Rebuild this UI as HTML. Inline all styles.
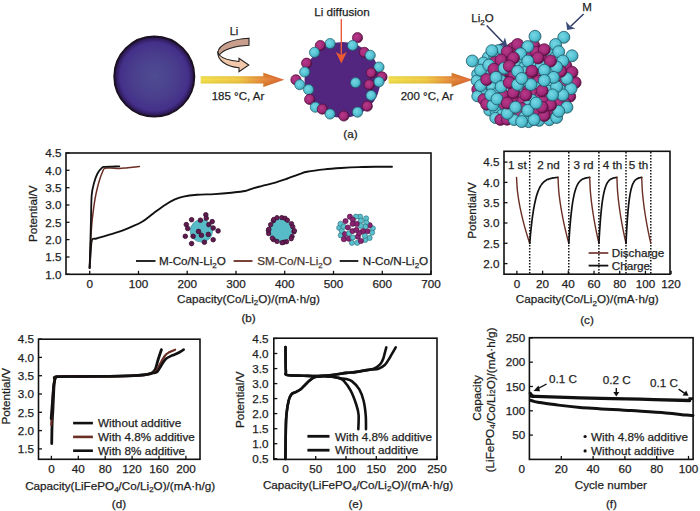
<!DOCTYPE html>
<html><head><meta charset="utf-8"><style>
html,body{margin:0;padding:0;background:#fff;overflow:hidden;width:700px;height:511px;}
svg{display:block;font-family:"Liberation Sans",sans-serif;}
</style></head><body>
<svg width="700" height="511" viewBox="0 0 700 511">
<rect width="700" height="511" fill="#fff"/>
<defs>
<radialGradient id="bigsph" cx="50%" cy="50%" r="50%">
<stop offset="0" stop-color="#4e4c92"/><stop offset="0.55" stop-color="#4a3e8c"/><stop offset="0.85" stop-color="#44308a"/><stop offset="0.95" stop-color="#301c5c"/><stop offset="1" stop-color="#160c24"/>
</radialGradient>
<linearGradient id="arrowG" x1="0" y1="0" x2="1" y2="0">
<stop offset="0" stop-color="#f2de3a"/><stop offset="0.45" stop-color="#f0c432"/><stop offset="0.7" stop-color="#e88a2a"/><stop offset="1" stop-color="#d85420"/>
</linearGradient>
<linearGradient id="arrowV" x1="0" y1="0" x2="0" y2="1">
<stop offset="0" stop-color="#000" stop-opacity="0.08"/><stop offset="0.45" stop-color="#fff" stop-opacity="0.12"/><stop offset="1" stop-color="#000" stop-opacity="0.12"/>
</linearGradient>
<radialGradient id="cyanB" cx="40%" cy="40%" r="60%">
<stop offset="0" stop-color="#78d8e4"/><stop offset="0.7" stop-color="#52c0d2"/><stop offset="1" stop-color="#3a98a8"/>
</radialGradient>
<radialGradient id="magB" cx="40%" cy="40%" r="60%">
<stop offset="0" stop-color="#b83a88"/><stop offset="0.7" stop-color="#a02878"/><stop offset="1" stop-color="#5a1040"/>
</radialGradient>
</defs>
<circle cx="154.3" cy="76.6" r="40.2" fill="url(#bigsph)" stroke="#1a1020" stroke-width="1.6"/>
<path d="M249,38.2 C232,39 219,44 217.8,52.5 L219.3,55 C223,50 234,46 249,45.2 Z" fill="#c99e8c" stroke="#222" stroke-width="1.1"/>
<path d="M217.8,52.5 C217.5,60 226,66.5 239,67.8 L239,71.7 L248.8,65 L239,58.2 L239,61.5 C229,60.5 222,58 219.3,55 Z" fill="#f2c8aa" stroke="#222" stroke-width="1.1"/>
<text x="234.0" y="35.4" text-anchor="middle" font-size="11" fill="#1e1e1e" stroke="#1e1e1e" stroke-width="0.25" >Li</text>
<path d="M200.7,76.2 L263.3,76.2 L263.3,72.8 L284.3,79.8 L263.3,87.0 L263.3,83.6 L200.7,83.6 Z" fill="url(#arrowG)"/>
<path d="M200.7,76.2 L263.3,76.2 L263.3,72.8 L284.3,79.8 L263.3,87.0 L263.3,83.6 L200.7,83.6 Z" fill="url(#arrowV)"/>
<path d="M388.6,76.2 L451.6,76.2 L451.6,72.8 L472.6,79.8 L451.6,87.0 L451.6,83.6 L388.6,83.6 Z" fill="url(#arrowG)"/>
<path d="M388.6,76.2 L451.6,76.2 L451.6,72.8 L472.6,79.8 L451.6,87.0 L451.6,83.6 L388.6,83.6 Z" fill="url(#arrowV)"/>
<text x="238.0" y="100.0" text-anchor="middle" font-size="11.5" fill="#1e1e1e" stroke="#1e1e1e" stroke-width="0.25" >185 °C, Ar</text>
<text x="427.0" y="100.0" text-anchor="middle" font-size="11.5" fill="#1e1e1e" stroke="#1e1e1e" stroke-width="0.25" >200 °C, Ar</text>
<circle cx="342.5" cy="80" r="38" fill="#52267e"/>
<circle cx="357.5" cy="37.7" r="5.1" fill="url(#magB)" stroke="#4a1038" stroke-width="0.7"/>
<circle cx="330.1" cy="43.6" r="5.1" fill="url(#cyanB)" stroke="#1e5866" stroke-width="0.7"/>
<circle cx="320.3" cy="45.5" r="5.1" fill="url(#magB)" stroke="#4a1038" stroke-width="0.7"/>
<circle cx="314.5" cy="52.4" r="5.1" fill="url(#cyanB)" stroke="#1e5866" stroke-width="0.7"/>
<circle cx="352.6" cy="45.5" r="5.1" fill="url(#cyanB)" stroke="#1e5866" stroke-width="0.7"/>
<circle cx="364.4" cy="52.4" r="5.1" fill="url(#magB)" stroke="#4a1038" stroke-width="0.7"/>
<circle cx="370.2" cy="55.3" r="5.1" fill="url(#cyanB)" stroke="#1e5866" stroke-width="0.7"/>
<circle cx="306.6" cy="63.2" r="5.1" fill="url(#magB)" stroke="#4a1038" stroke-width="0.7"/>
<circle cx="379.0" cy="67.1" r="5.1" fill="url(#cyanB)" stroke="#1e5866" stroke-width="0.7"/>
<circle cx="382.0" cy="76.9" r="5.1" fill="url(#magB)" stroke="#4a1038" stroke-width="0.7"/>
<circle cx="304.7" cy="72.0" r="5.1" fill="url(#cyanB)" stroke="#1e5866" stroke-width="0.7"/>
<circle cx="371.2" cy="72.9" r="5.1" fill="url(#magB)" stroke="#4a1038" stroke-width="0.7"/>
<circle cx="295.9" cy="79.8" r="5.1" fill="url(#magB)" stroke="#4a1038" stroke-width="0.7"/>
<circle cx="299.8" cy="84.7" r="5.1" fill="url(#cyanB)" stroke="#1e5866" stroke-width="0.7"/>
<circle cx="308.6" cy="89.6" r="5.1" fill="url(#cyanB)" stroke="#1e5866" stroke-width="0.7"/>
<circle cx="355.6" cy="82.7" r="5.1" fill="url(#cyanB)" stroke="#1e5866" stroke-width="0.7"/>
<circle cx="369.3" cy="84.7" r="5.1" fill="url(#magB)" stroke="#4a1038" stroke-width="0.7"/>
<circle cx="379.0" cy="81.8" r="5.1" fill="url(#cyanB)" stroke="#1e5866" stroke-width="0.7"/>
<circle cx="371.2" cy="95.5" r="5.1" fill="url(#cyanB)" stroke="#1e5866" stroke-width="0.7"/>
<circle cx="309.6" cy="99.4" r="5.1" fill="url(#magB)" stroke="#4a1038" stroke-width="0.7"/>
<circle cx="315.4" cy="107.2" r="5.1" fill="url(#cyanB)" stroke="#1e5866" stroke-width="0.7"/>
<circle cx="322.3" cy="109.1" r="5.1" fill="url(#magB)" stroke="#4a1038" stroke-width="0.7"/>
<circle cx="330.1" cy="114.0" r="5.1" fill="url(#cyanB)" stroke="#1e5866" stroke-width="0.7"/>
<circle cx="343.8" cy="116.0" r="5.1" fill="url(#magB)" stroke="#4a1038" stroke-width="0.7"/>
<circle cx="357.5" cy="112.1" r="5.1" fill="url(#cyanB)" stroke="#1e5866" stroke-width="0.7"/>
<circle cx="367.3" cy="106.2" r="5.1" fill="url(#magB)" stroke="#4a1038" stroke-width="0.7"/>
<line x1="341.3" y1="19" x2="341.3" y2="56" stroke="#e85a3a" stroke-width="1.4"/>
<path d="M335.8,52 L341.3,63.5 L346.8,52 L341.3,55 Z" fill="#ec5a30"/>
<text x="342.0" y="15.7" text-anchor="middle" font-size="11.7" fill="#1e1e1e" stroke="#1e1e1e" stroke-width="0.25" >Li diffusion</text>
<text x="350.4" y="138.0" text-anchor="middle" font-size="11.7" fill="#1e1e1e" stroke="#1e1e1e" stroke-width="0.25" >(a)</text>
<ellipse cx="524" cy="82" rx="46" ry="40" fill="#6a1c58"/>
<circle cx="533.9" cy="45.1" r="5.6" fill="url(#magB)" stroke="#5a1444" stroke-width="0.8"/>
<circle cx="512.9" cy="48.0" r="5.6" fill="url(#magB)" stroke="#5a1444" stroke-width="0.8"/>
<circle cx="521.4" cy="48.0" r="5.6" fill="url(#magB)" stroke="#5a1444" stroke-width="0.8"/>
<circle cx="498.6" cy="50.2" r="5.6" fill="url(#cyanB)" stroke="#1e5866" stroke-width="0.8"/>
<circle cx="530.2" cy="51.6" r="5.6" fill="url(#magB)" stroke="#5a1444" stroke-width="0.8"/>
<circle cx="536.1" cy="52.0" r="5.6" fill="url(#magB)" stroke="#5a1444" stroke-width="0.8"/>
<circle cx="549.3" cy="54.2" r="5.6" fill="url(#cyanB)" stroke="#1e5866" stroke-width="0.8"/>
<circle cx="488.0" cy="57.1" r="5.6" fill="url(#cyanB)" stroke="#1e5866" stroke-width="0.8"/>
<circle cx="494.4" cy="56.5" r="5.6" fill="url(#cyanB)" stroke="#1e5866" stroke-width="0.8"/>
<circle cx="506.9" cy="56.9" r="5.6" fill="url(#magB)" stroke="#5a1444" stroke-width="0.8"/>
<circle cx="555.0" cy="57.3" r="5.6" fill="url(#cyanB)" stroke="#1e5866" stroke-width="0.8"/>
<circle cx="519.3" cy="59.9" r="5.6" fill="url(#cyanB)" stroke="#1e5866" stroke-width="0.8"/>
<circle cx="544.0" cy="61.0" r="5.6" fill="url(#magB)" stroke="#5a1444" stroke-width="0.8"/>
<circle cx="483.4" cy="62.6" r="5.6" fill="url(#cyanB)" stroke="#1e5866" stroke-width="0.8"/>
<circle cx="494.6" cy="62.1" r="5.6" fill="url(#magB)" stroke="#5a1444" stroke-width="0.8"/>
<circle cx="533.8" cy="63.7" r="5.6" fill="url(#cyanB)" stroke="#1e5866" stroke-width="0.8"/>
<circle cx="516.9" cy="66.7" r="5.6" fill="url(#cyanB)" stroke="#1e5866" stroke-width="0.8"/>
<circle cx="524.4" cy="66.8" r="5.6" fill="url(#cyanB)" stroke="#1e5866" stroke-width="0.8"/>
<circle cx="541.0" cy="65.8" r="5.6" fill="url(#cyanB)" stroke="#1e5866" stroke-width="0.8"/>
<circle cx="549.3" cy="66.6" r="5.6" fill="url(#cyanB)" stroke="#1e5866" stroke-width="0.8"/>
<circle cx="566.2" cy="65.7" r="5.6" fill="url(#magB)" stroke="#5a1444" stroke-width="0.8"/>
<circle cx="486.5" cy="71.2" r="5.6" fill="url(#cyanB)" stroke="#1e5866" stroke-width="0.8"/>
<circle cx="509.2" cy="71.1" r="5.6" fill="url(#magB)" stroke="#5a1444" stroke-width="0.8"/>
<circle cx="524.4" cy="72.1" r="5.6" fill="url(#cyanB)" stroke="#1e5866" stroke-width="0.8"/>
<circle cx="551.4" cy="72.5" r="5.6" fill="url(#cyanB)" stroke="#1e5866" stroke-width="0.8"/>
<circle cx="477.3" cy="74.2" r="5.6" fill="url(#cyanB)" stroke="#1e5866" stroke-width="0.8"/>
<circle cx="500.4" cy="74.5" r="5.6" fill="url(#magB)" stroke="#5a1444" stroke-width="0.8"/>
<circle cx="513.6" cy="74.6" r="5.6" fill="url(#magB)" stroke="#5a1444" stroke-width="0.8"/>
<circle cx="536.4" cy="74.8" r="5.6" fill="url(#magB)" stroke="#5a1444" stroke-width="0.8"/>
<circle cx="528.3" cy="77.2" r="5.6" fill="url(#magB)" stroke="#5a1444" stroke-width="0.8"/>
<circle cx="560.4" cy="77.5" r="5.6" fill="url(#magB)" stroke="#5a1444" stroke-width="0.8"/>
<circle cx="476.7" cy="80.6" r="5.6" fill="url(#cyanB)" stroke="#1e5866" stroke-width="0.8"/>
<circle cx="491.2" cy="81.2" r="5.6" fill="url(#cyanB)" stroke="#1e5866" stroke-width="0.8"/>
<circle cx="501.2" cy="80.7" r="5.6" fill="url(#cyanB)" stroke="#1e5866" stroke-width="0.8"/>
<circle cx="537.9" cy="81.0" r="5.6" fill="url(#magB)" stroke="#5a1444" stroke-width="0.8"/>
<circle cx="525.7" cy="83.4" r="5.6" fill="url(#cyanB)" stroke="#1e5866" stroke-width="0.8"/>
<circle cx="549.8" cy="84.6" r="5.6" fill="url(#cyanB)" stroke="#1e5866" stroke-width="0.8"/>
<circle cx="563.4" cy="84.5" r="5.6" fill="url(#magB)" stroke="#5a1444" stroke-width="0.8"/>
<circle cx="485.4" cy="87.9" r="5.6" fill="url(#magB)" stroke="#5a1444" stroke-width="0.8"/>
<circle cx="492.2" cy="86.8" r="5.6" fill="url(#cyanB)" stroke="#1e5866" stroke-width="0.8"/>
<circle cx="536.1" cy="87.9" r="5.6" fill="url(#cyanB)" stroke="#1e5866" stroke-width="0.8"/>
<circle cx="477.4" cy="89.5" r="5.6" fill="url(#magB)" stroke="#5a1444" stroke-width="0.8"/>
<circle cx="507.2" cy="89.6" r="5.6" fill="url(#cyanB)" stroke="#1e5866" stroke-width="0.8"/>
<circle cx="519.4" cy="89.1" r="5.6" fill="url(#cyanB)" stroke="#1e5866" stroke-width="0.8"/>
<circle cx="528.1" cy="90.7" r="5.6" fill="url(#magB)" stroke="#5a1444" stroke-width="0.8"/>
<circle cx="548.6" cy="90.8" r="5.6" fill="url(#cyanB)" stroke="#1e5866" stroke-width="0.8"/>
<circle cx="560.0" cy="89.5" r="5.6" fill="url(#cyanB)" stroke="#1e5866" stroke-width="0.8"/>
<circle cx="482.1" cy="92.4" r="5.6" fill="url(#cyanB)" stroke="#1e5866" stroke-width="0.8"/>
<circle cx="498.1" cy="92.3" r="5.6" fill="url(#cyanB)" stroke="#1e5866" stroke-width="0.8"/>
<circle cx="534.8" cy="94.0" r="5.6" fill="url(#magB)" stroke="#5a1444" stroke-width="0.8"/>
<circle cx="477.4" cy="96.2" r="5.6" fill="url(#cyanB)" stroke="#1e5866" stroke-width="0.8"/>
<circle cx="503.1" cy="95.0" r="5.6" fill="url(#magB)" stroke="#5a1444" stroke-width="0.8"/>
<circle cx="519.4" cy="96.9" r="5.6" fill="url(#cyanB)" stroke="#1e5866" stroke-width="0.8"/>
<circle cx="540.3" cy="96.0" r="5.6" fill="url(#magB)" stroke="#5a1444" stroke-width="0.8"/>
<circle cx="545.6" cy="97.0" r="5.6" fill="url(#cyanB)" stroke="#1e5866" stroke-width="0.8"/>
<circle cx="570.1" cy="96.5" r="5.6" fill="url(#magB)" stroke="#5a1444" stroke-width="0.8"/>
<circle cx="483.5" cy="99.4" r="5.6" fill="url(#magB)" stroke="#5a1444" stroke-width="0.8"/>
<circle cx="513.8" cy="98.7" r="5.6" fill="url(#magB)" stroke="#5a1444" stroke-width="0.8"/>
<circle cx="531.8" cy="99.7" r="5.6" fill="url(#cyanB)" stroke="#1e5866" stroke-width="0.8"/>
<circle cx="558.6" cy="99.7" r="5.6" fill="url(#magB)" stroke="#5a1444" stroke-width="0.8"/>
<circle cx="522.2" cy="101.8" r="5.6" fill="url(#magB)" stroke="#5a1444" stroke-width="0.8"/>
<circle cx="543.2" cy="101.2" r="5.6" fill="url(#magB)" stroke="#5a1444" stroke-width="0.8"/>
<circle cx="565.0" cy="102.8" r="5.6" fill="url(#magB)" stroke="#5a1444" stroke-width="0.8"/>
<circle cx="500.8" cy="105.5" r="5.6" fill="url(#magB)" stroke="#5a1444" stroke-width="0.8"/>
<circle cx="527.9" cy="105.7" r="5.6" fill="url(#cyanB)" stroke="#1e5866" stroke-width="0.8"/>
<circle cx="558.5" cy="104.1" r="5.6" fill="url(#magB)" stroke="#5a1444" stroke-width="0.8"/>
<circle cx="510.0" cy="107.5" r="5.6" fill="url(#magB)" stroke="#5a1444" stroke-width="0.8"/>
<circle cx="522.0" cy="108.2" r="5.6" fill="url(#magB)" stroke="#5a1444" stroke-width="0.8"/>
<circle cx="533.5" cy="107.0" r="5.6" fill="url(#cyanB)" stroke="#1e5866" stroke-width="0.8"/>
<circle cx="489.4" cy="110.4" r="5.6" fill="url(#cyanB)" stroke="#1e5866" stroke-width="0.8"/>
<circle cx="495.8" cy="111.3" r="5.6" fill="url(#cyanB)" stroke="#1e5866" stroke-width="0.8"/>
<circle cx="537.8" cy="110.7" r="5.6" fill="url(#magB)" stroke="#5a1444" stroke-width="0.8"/>
<circle cx="548.4" cy="110.9" r="5.6" fill="url(#magB)" stroke="#5a1444" stroke-width="0.8"/>
<circle cx="501.8" cy="114.8" r="5.6" fill="url(#cyanB)" stroke="#1e5866" stroke-width="0.8"/>
<circle cx="513.2" cy="113.6" r="5.6" fill="url(#cyanB)" stroke="#1e5866" stroke-width="0.8"/>
<circle cx="519.0" cy="114.7" r="5.6" fill="url(#magB)" stroke="#5a1444" stroke-width="0.8"/>
<circle cx="495.4" cy="117.9" r="5.6" fill="url(#cyanB)" stroke="#1e5866" stroke-width="0.8"/>
<circle cx="524.3" cy="116.9" r="5.6" fill="url(#cyanB)" stroke="#1e5866" stroke-width="0.8"/>
<circle cx="500.4" cy="119.8" r="5.6" fill="url(#magB)" stroke="#5a1444" stroke-width="0.8"/>
<circle cx="507.0" cy="119.6" r="5.6" fill="url(#magB)" stroke="#5a1444" stroke-width="0.8"/>
<circle cx="514.0" cy="119.9" r="5.6" fill="url(#cyanB)" stroke="#1e5866" stroke-width="0.8"/>
<circle cx="539.1" cy="120.7" r="5.6" fill="url(#cyanB)" stroke="#1e5866" stroke-width="0.8"/>
<circle cx="549.4" cy="120.1" r="5.6" fill="url(#cyanB)" stroke="#1e5866" stroke-width="0.8"/>
<circle cx="528.6" cy="122.0" r="5.6" fill="url(#cyanB)" stroke="#1e5866" stroke-width="0.8"/>
<circle cx="563.8" cy="37.3" r="6.0" fill="url(#cyanB)" stroke="#1e5866" stroke-width="0.8"/>
<circle cx="472.3" cy="61.0" r="6.0" fill="url(#cyanB)" stroke="#1e5866" stroke-width="0.8"/>
<circle cx="572.0" cy="55.8" r="6.0" fill="url(#cyanB)" stroke="#1e5866" stroke-width="0.8"/>
<circle cx="575.1" cy="82.6" r="6.0" fill="url(#magB)" stroke="#5a1444" stroke-width="0.8"/>
<circle cx="566.9" cy="107.2" r="6.0" fill="url(#cyanB)" stroke="#1e5866" stroke-width="0.8"/>
<circle cx="556.6" cy="117.5" r="6.0" fill="url(#cyanB)" stroke="#1e5866" stroke-width="0.8"/>
<circle cx="572.0" cy="72.3" r="6.0" fill="url(#magB)" stroke="#5a1444" stroke-width="0.8"/>
<circle cx="571.0" cy="88.7" r="6.0" fill="url(#cyanB)" stroke="#1e5866" stroke-width="0.8"/>
<circle cx="555.6" cy="44.5" r="6.0" fill="url(#cyanB)" stroke="#1e5866" stroke-width="0.8"/>
<circle cx="558.7" cy="111.3" r="6.0" fill="url(#cyanB)" stroke="#1e5866" stroke-width="0.8"/>
<circle cx="535.0" cy="36.3" r="6.0" fill="url(#cyanB)" stroke="#1e5866" stroke-width="0.8"/>
<circle cx="558.7" cy="51.7" r="6.0" fill="url(#cyanB)" stroke="#1e5866" stroke-width="0.8"/>
<circle cx="480.6" cy="70.2" r="6.0" fill="url(#cyanB)" stroke="#1e5866" stroke-width="0.8"/>
<circle cx="486.7" cy="104.2" r="6.0" fill="url(#magB)" stroke="#5a1444" stroke-width="0.8"/>
<circle cx="480.6" cy="85.6" r="6.0" fill="url(#cyanB)" stroke="#1e5866" stroke-width="0.8"/>
<circle cx="491.9" cy="50.7" r="6.0" fill="url(#cyanB)" stroke="#1e5866" stroke-width="0.8"/>
<circle cx="562.8" cy="61.0" r="6.0" fill="url(#cyanB)" stroke="#1e5866" stroke-width="0.8"/>
<circle cx="566.9" cy="78.5" r="6.0" fill="url(#cyanB)" stroke="#1e5866" stroke-width="0.8"/>
<circle cx="521.7" cy="121.6" r="6.0" fill="url(#cyanB)" stroke="#1e5866" stroke-width="0.8"/>
<circle cx="562.8" cy="94.9" r="6.0" fill="url(#cyanB)" stroke="#1e5866" stroke-width="0.8"/>
<circle cx="544.3" cy="115.5" r="6.0" fill="url(#magB)" stroke="#5a1444" stroke-width="0.8"/>
<circle cx="534.0" cy="119.6" r="6.0" fill="url(#cyanB)" stroke="#1e5866" stroke-width="0.8"/>
<circle cx="492.9" cy="105.2" r="6.0" fill="url(#cyanB)" stroke="#1e5866" stroke-width="0.8"/>
<circle cx="488.8" cy="65.1" r="6.0" fill="url(#cyanB)" stroke="#1e5866" stroke-width="0.8"/>
<circle cx="560.7" cy="71.3" r="6.0" fill="url(#magB)" stroke="#5a1444" stroke-width="0.8"/>
<circle cx="507.3" cy="113.4" r="6.0" fill="url(#cyanB)" stroke="#1e5866" stroke-width="0.8"/>
<circle cx="486.7" cy="79.5" r="6.0" fill="url(#magB)" stroke="#5a1444" stroke-width="0.8"/>
<circle cx="550.5" cy="105.2" r="6.0" fill="url(#magB)" stroke="#5a1444" stroke-width="0.8"/>
<circle cx="544.3" cy="49.7" r="6.0" fill="url(#magB)" stroke="#5a1444" stroke-width="0.8"/>
<circle cx="490.8" cy="94.9" r="6.0" fill="url(#cyanB)" stroke="#1e5866" stroke-width="0.8"/>
<circle cx="517.6" cy="44.5" r="6.0" fill="url(#magB)" stroke="#5a1444" stroke-width="0.8"/>
<circle cx="556.6" cy="67.1" r="6.0" fill="url(#cyanB)" stroke="#1e5866" stroke-width="0.8"/>
<circle cx="527.8" cy="46.6" r="6.0" fill="url(#cyanB)" stroke="#1e5866" stroke-width="0.8"/>
<circle cx="556.6" cy="86.7" r="6.0" fill="url(#cyanB)" stroke="#1e5866" stroke-width="0.8"/>
<circle cx="497.0" cy="99.0" r="6.0" fill="url(#cyanB)" stroke="#1e5866" stroke-width="0.8"/>
<circle cx="507.3" cy="51.7" r="6.0" fill="url(#magB)" stroke="#5a1444" stroke-width="0.8"/>
<circle cx="542.2" cy="107.2" r="6.0" fill="url(#magB)" stroke="#5a1444" stroke-width="0.8"/>
<circle cx="550.5" cy="61.0" r="6.0" fill="url(#magB)" stroke="#5a1444" stroke-width="0.8"/>
<circle cx="552.5" cy="94.9" r="6.0" fill="url(#cyanB)" stroke="#1e5866" stroke-width="0.8"/>
<circle cx="493.9" cy="69.2" r="6.0" fill="url(#magB)" stroke="#5a1444" stroke-width="0.8"/>
<circle cx="527.8" cy="110.3" r="6.0" fill="url(#cyanB)" stroke="#1e5866" stroke-width="0.8"/>
<circle cx="501.1" cy="60.0" r="6.0" fill="url(#magB)" stroke="#5a1444" stroke-width="0.8"/>
<circle cx="553.5" cy="77.4" r="6.0" fill="url(#cyanB)" stroke="#1e5866" stroke-width="0.8"/>
<circle cx="507.3" cy="103.1" r="6.0" fill="url(#magB)" stroke="#5a1444" stroke-width="0.8"/>
<circle cx="515.5" cy="107.2" r="6.0" fill="url(#cyanB)" stroke="#1e5866" stroke-width="0.8"/>
<circle cx="496.0" cy="77.4" r="6.0" fill="url(#cyanB)" stroke="#1e5866" stroke-width="0.8"/>
<circle cx="520.6" cy="53.8" r="6.0" fill="url(#cyanB)" stroke="#1e5866" stroke-width="0.8"/>
<circle cx="538.1" cy="57.9" r="6.0" fill="url(#magB)" stroke="#5a1444" stroke-width="0.8"/>
<circle cx="536.1" cy="103.1" r="6.0" fill="url(#cyanB)" stroke="#1e5866" stroke-width="0.8"/>
<circle cx="513.5" cy="57.9" r="6.0" fill="url(#magB)" stroke="#5a1444" stroke-width="0.8"/>
<circle cx="501.1" cy="86.7" r="6.0" fill="url(#cyanB)" stroke="#1e5866" stroke-width="0.8"/>
<circle cx="504.2" cy="68.2" r="6.0" fill="url(#cyanB)" stroke="#1e5866" stroke-width="0.8"/>
<circle cx="544.3" cy="70.2" r="6.0" fill="url(#cyanB)" stroke="#1e5866" stroke-width="0.8"/>
<circle cx="542.2" cy="90.8" r="6.0" fill="url(#magB)" stroke="#5a1444" stroke-width="0.8"/>
<circle cx="544.3" cy="80.5" r="6.0" fill="url(#cyanB)" stroke="#1e5866" stroke-width="0.8"/>
<circle cx="509.3" cy="66.1" r="6.0" fill="url(#magB)" stroke="#5a1444" stroke-width="0.8"/>
<circle cx="527.8" cy="61.0" r="6.0" fill="url(#cyanB)" stroke="#1e5866" stroke-width="0.8"/>
<circle cx="513.5" cy="92.8" r="6.0" fill="url(#magB)" stroke="#5a1444" stroke-width="0.8"/>
<circle cx="525.8" cy="94.9" r="6.0" fill="url(#magB)" stroke="#5a1444" stroke-width="0.8"/>
<circle cx="509.3" cy="82.6" r="6.0" fill="url(#magB)" stroke="#5a1444" stroke-width="0.8"/>
<circle cx="532.0" cy="71.3" r="6.0" fill="url(#magB)" stroke="#5a1444" stroke-width="0.8"/>
<circle cx="517.6" cy="71.3" r="6.0" fill="url(#cyanB)" stroke="#1e5866" stroke-width="0.8"/>
<circle cx="530.9" cy="84.6" r="6.0" fill="url(#cyanB)" stroke="#1e5866" stroke-width="0.8"/>
<circle cx="517.6" cy="84.6" r="6.0" fill="url(#cyanB)" stroke="#1e5866" stroke-width="0.8"/>
<circle cx="521.7" cy="78.5" r="6.0" fill="url(#cyanB)" stroke="#1e5866" stroke-width="0.8"/>
<text x="482.5" y="22.0" text-anchor="middle" font-size="11.5" fill="#1e1e1e" stroke="#1e1e1e" stroke-width="0.25" >Li<tspan font-size="8" dy="2.5">2</tspan><tspan dy="-2.5">O</tspan></text>
<line x1="486.7" y1="25.5" x2="503" y2="42.5" stroke="#2e3c66" stroke-width="1.5"/>
<path d="M498,44.5 L507.5,47 L505,37.5 L503,42.5 Z" fill="#3a4a78"/>
<text x="587.0" y="11.0" text-anchor="middle" font-size="11.5" fill="#1e1e1e" stroke="#1e1e1e" stroke-width="0.25" >M</text>
<line x1="583.6" y1="14" x2="570.5" y2="26.5" stroke="#2e3c66" stroke-width="1.5"/>
<path d="M566,21.5 L567.2,30 L575.5,28.5 L570.5,26.5 Z" fill="#3a4a78"/>
<rect x="66" y="153" width="365" height="121.30000000000001" fill="none" stroke="#111" stroke-width="1.6"/>
<line x1="66" y1="274.3" x2="69.5" y2="274.3" stroke="#111" stroke-width="1.3"/>
<text x="61.5" y="278.5" text-anchor="end" font-size="11.7" fill="#1e1e1e" stroke="#1e1e1e" stroke-width="0.25" >1.0</text>
<line x1="66" y1="257.0" x2="69.5" y2="257.0" stroke="#111" stroke-width="1.3"/>
<text x="61.5" y="261.2" text-anchor="end" font-size="11.7" fill="#1e1e1e" stroke="#1e1e1e" stroke-width="0.25" >1.5</text>
<line x1="66" y1="239.6" x2="69.5" y2="239.6" stroke="#111" stroke-width="1.3"/>
<text x="61.5" y="243.8" text-anchor="end" font-size="11.7" fill="#1e1e1e" stroke="#1e1e1e" stroke-width="0.25" >2.0</text>
<line x1="66" y1="222.3" x2="69.5" y2="222.3" stroke="#111" stroke-width="1.3"/>
<text x="61.5" y="226.5" text-anchor="end" font-size="11.7" fill="#1e1e1e" stroke="#1e1e1e" stroke-width="0.25" >2.5</text>
<line x1="66" y1="205.0" x2="69.5" y2="205.0" stroke="#111" stroke-width="1.3"/>
<text x="61.5" y="209.2" text-anchor="end" font-size="11.7" fill="#1e1e1e" stroke="#1e1e1e" stroke-width="0.25" >3.0</text>
<line x1="66" y1="187.7" x2="69.5" y2="187.7" stroke="#111" stroke-width="1.3"/>
<text x="61.5" y="191.9" text-anchor="end" font-size="11.7" fill="#1e1e1e" stroke="#1e1e1e" stroke-width="0.25" >3.5</text>
<line x1="66" y1="170.3" x2="69.5" y2="170.3" stroke="#111" stroke-width="1.3"/>
<text x="61.5" y="174.5" text-anchor="end" font-size="11.7" fill="#1e1e1e" stroke="#1e1e1e" stroke-width="0.25" >4.0</text>
<line x1="66" y1="153.0" x2="69.5" y2="153.0" stroke="#111" stroke-width="1.3"/>
<text x="61.5" y="157.2" text-anchor="end" font-size="11.7" fill="#1e1e1e" stroke="#1e1e1e" stroke-width="0.25" >4.5</text>
<line x1="89.7" y1="274.3" x2="89.7" y2="270.8" stroke="#111" stroke-width="1.3"/>
<text x="89.7" y="287.6" text-anchor="middle" font-size="11.7" fill="#1e1e1e" stroke="#1e1e1e" stroke-width="0.25" >0</text>
<line x1="138.5" y1="274.3" x2="138.5" y2="270.8" stroke="#111" stroke-width="1.3"/>
<text x="138.5" y="287.6" text-anchor="middle" font-size="11.7" fill="#1e1e1e" stroke="#1e1e1e" stroke-width="0.25" >100</text>
<line x1="187.2" y1="274.3" x2="187.2" y2="270.8" stroke="#111" stroke-width="1.3"/>
<text x="187.2" y="287.6" text-anchor="middle" font-size="11.7" fill="#1e1e1e" stroke="#1e1e1e" stroke-width="0.25" >200</text>
<line x1="236.0" y1="274.3" x2="236.0" y2="270.8" stroke="#111" stroke-width="1.3"/>
<text x="236.0" y="287.6" text-anchor="middle" font-size="11.7" fill="#1e1e1e" stroke="#1e1e1e" stroke-width="0.25" >300</text>
<line x1="284.7" y1="274.3" x2="284.7" y2="270.8" stroke="#111" stroke-width="1.3"/>
<text x="284.7" y="287.6" text-anchor="middle" font-size="11.7" fill="#1e1e1e" stroke="#1e1e1e" stroke-width="0.25" >400</text>
<line x1="333.5" y1="274.3" x2="333.5" y2="270.8" stroke="#111" stroke-width="1.3"/>
<text x="333.5" y="287.6" text-anchor="middle" font-size="11.7" fill="#1e1e1e" stroke="#1e1e1e" stroke-width="0.25" >500</text>
<line x1="382.3" y1="274.3" x2="382.3" y2="270.8" stroke="#111" stroke-width="1.3"/>
<text x="382.3" y="287.6" text-anchor="middle" font-size="11.7" fill="#1e1e1e" stroke="#1e1e1e" stroke-width="0.25" >600</text>
<line x1="431.0" y1="274.3" x2="431.0" y2="270.8" stroke="#111" stroke-width="1.3"/>
<text x="431.0" y="287.6" text-anchor="middle" font-size="11.7" fill="#1e1e1e" stroke="#1e1e1e" stroke-width="0.25" >700</text>
<text x="0" y="0" transform="translate(32.0,213.7) rotate(-90)" text-anchor="middle" font-size="11.7" fill="#1e1e1e" stroke="#1e1e1e" stroke-width="0.25" dominant-baseline="central">Potential/V</text>
<text x="248.5" y="302.8" text-anchor="middle" font-size="11.7" fill="#1e1e1e" stroke="#1e1e1e" stroke-width="0.25" >Capacity(Co/Li<tspan font-size="8" dy="2.5">2</tspan><tspan dy="-2.5">O)/(mA·h/g)</tspan></text>
<text x="248.6" y="321.8" text-anchor="middle" font-size="11.7" fill="#1e1e1e" stroke="#1e1e1e" stroke-width="0.25" >(b)</text>
<path d="M89.60,268.00 C89.75,265.83 90.12,259.63 90.50,255.00 C90.88,250.37 90.92,242.95 91.90,240.20 C92.88,237.45 93.73,239.35 96.40,238.50 C99.07,237.65 104.08,236.23 107.90,235.10 C111.72,233.97 115.50,233.03 119.30,231.70 C123.10,230.37 126.90,228.75 130.70,227.10 C134.50,225.45 138.28,224.12 142.10,221.80 C145.92,219.48 149.78,216.00 153.60,213.20 C157.42,210.40 161.55,207.27 165.00,205.00 C168.45,202.73 171.23,201.00 174.30,199.60 C177.37,198.20 179.60,197.40 183.40,196.60 C187.20,195.80 191.95,195.22 197.10,194.80 C202.25,194.38 208.58,194.45 214.30,194.10 C220.02,193.75 226.27,193.22 231.40,192.70 C236.53,192.18 241.50,191.73 245.10,191.00 C248.70,190.27 250.13,189.15 253.00,188.30 C255.87,187.45 258.47,186.88 262.30,185.90 C266.13,184.92 272.00,183.55 276.00,182.40 C280.00,181.25 282.30,180.42 286.30,179.00 C290.30,177.58 296.53,175.10 300.00,173.90 C303.47,172.70 303.05,172.55 307.10,171.80 C311.15,171.05 318.58,170.03 324.30,169.40 C330.02,168.77 335.68,168.38 341.40,168.00 C347.12,167.62 352.88,167.30 358.60,167.10 C364.32,166.90 370.13,166.85 375.70,166.80 C381.27,166.75 389.28,166.80 392.00,166.80" fill="none" stroke="#111" stroke-width="1.9" stroke-linejoin="round" stroke-linecap="round" />
<path d="M89.60,268.00 C89.70,265.00 89.85,257.10 90.20,250.00 C90.55,242.90 91.17,232.07 91.70,225.40 C92.23,218.73 92.80,214.68 93.40,210.00 C94.00,205.32 94.60,201.13 95.30,197.30 C96.00,193.47 96.82,190.13 97.60,187.00 C98.38,183.87 99.22,180.92 100.00,178.50 C100.78,176.08 101.53,174.18 102.30,172.50 C103.07,170.82 103.20,169.13 104.60,168.40 C106.00,167.67 108.25,168.07 110.70,168.10 C113.15,168.13 116.45,168.67 119.30,168.60 C122.15,168.53 124.45,168.07 127.80,167.70 C131.15,167.33 137.47,166.62 139.40,166.40" fill="none" stroke="#6a2e24" stroke-width="1.5" stroke-linejoin="round" stroke-linecap="round" />
<path d="M89.60,268.00 C89.70,265.00 89.97,258.25 90.20,250.00 C90.43,241.75 90.75,227.67 91.00,218.50 C91.25,209.33 91.20,200.92 91.70,195.00 C92.20,189.08 93.03,186.58 94.00,183.00 C94.97,179.42 96.15,176.05 97.50,173.50 C98.85,170.95 100.90,168.80 102.10,167.70 C103.30,166.60 103.05,167.08 104.70,166.90 C106.35,166.72 109.57,166.68 112.00,166.60 C114.43,166.52 118.08,166.43 119.30,166.40" fill="none" stroke="#111" stroke-width="1.8" stroke-linejoin="round" stroke-linecap="round" />
<line x1="136" y1="261" x2="155.5" y2="261" stroke="#111" stroke-width="1.8"/>
<text x="159.0" y="265.2" text-anchor="start" font-size="11.7" fill="#1e1e1e" stroke="#1e1e1e" stroke-width="0.25" >M-Co/N-Li<tspan font-size="8" dy="2.5">2</tspan><tspan dy="-2.5">O</tspan></text>
<line x1="233.6" y1="261" x2="252.5" y2="261" stroke="#6a2e24" stroke-width="1.8"/>
<text x="257.2" y="265.2" text-anchor="start" font-size="11.7" fill="#4a3530" stroke="#4a3530" stroke-width="0.25" >SM-Co/N-Li<tspan font-size="8" dy="2.5">2</tspan><tspan dy="-2.5">O</tspan></text>
<line x1="339.7" y1="261" x2="358.3" y2="261" stroke="#111" stroke-width="1.8"/>
<text x="362.7" y="265.2" text-anchor="start" font-size="11.7" fill="#1e1e1e" stroke="#1e1e1e" stroke-width="0.25" >N-Co/N-Li<tspan font-size="8" dy="2.5">2</tspan><tspan dy="-2.5">O</tspan></text>
<circle cx="201.4" cy="230.9" r="11.2" fill="#58bcc8" stroke="#3a8a98" stroke-width="0.6"/>
<circle cx="205.8" cy="214.8" r="2.3" fill="#5e1a4e" stroke="#38102e" stroke-width="0.8"/>
<circle cx="191.6" cy="219.7" r="2.3" fill="#5e1a4e" stroke="#38102e" stroke-width="0.8"/>
<circle cx="212.2" cy="221.6" r="2.3" fill="#5e1a4e" stroke="#38102e" stroke-width="0.8"/>
<circle cx="186.3" cy="224.6" r="2.3" fill="#5e1a4e" stroke="#38102e" stroke-width="0.8"/>
<circle cx="187.7" cy="228.5" r="2.3" fill="#5e1a4e" stroke="#38102e" stroke-width="0.8"/>
<circle cx="213.2" cy="228.0" r="2.3" fill="#5e1a4e" stroke="#38102e" stroke-width="0.8"/>
<circle cx="218.1" cy="230.9" r="2.3" fill="#5e1a4e" stroke="#38102e" stroke-width="0.8"/>
<circle cx="198.5" cy="231.4" r="2.3" fill="#5e1a4e" stroke="#38102e" stroke-width="0.8"/>
<circle cx="208.3" cy="234.4" r="2.3" fill="#5e1a4e" stroke="#38102e" stroke-width="0.8"/>
<circle cx="201.4" cy="235.3" r="2.3" fill="#5e1a4e" stroke="#38102e" stroke-width="0.8"/>
<circle cx="185.3" cy="236.3" r="2.3" fill="#5e1a4e" stroke="#38102e" stroke-width="0.8"/>
<circle cx="193.1" cy="236.3" r="2.3" fill="#5e1a4e" stroke="#38102e" stroke-width="0.8"/>
<circle cx="213.2" cy="239.7" r="2.3" fill="#5e1a4e" stroke="#38102e" stroke-width="0.8"/>
<circle cx="204.4" cy="242.2" r="2.3" fill="#5e1a4e" stroke="#38102e" stroke-width="0.8"/>
<circle cx="191.6" cy="243.6" r="2.3" fill="#5e1a4e" stroke="#38102e" stroke-width="0.8"/>
<circle cx="200.4" cy="220.2" r="2.3" fill="#5e1a4e" stroke="#38102e" stroke-width="0.8"/>
<circle cx="208.8" cy="224.6" r="2.3" fill="#5e1a4e" stroke="#38102e" stroke-width="0.8"/>
<circle cx="206.3" cy="218.2" r="2.3" fill="#5e1a4e" stroke="#38102e" stroke-width="0.8"/>
<circle cx="280.8" cy="230.3" r="12" fill="#58bcc8"/>
<circle cx="294.0" cy="231.8" r="2.2" fill="#6a1e58" stroke="#3a0c30" stroke-width="0.8"/>
<circle cx="292.1" cy="236.5" r="2.2" fill="#6a1e58" stroke="#3a0c30" stroke-width="0.8"/>
<circle cx="291.2" cy="238.7" r="2.2" fill="#6a1e58" stroke="#3a0c30" stroke-width="0.8"/>
<circle cx="286.6" cy="241.7" r="2.2" fill="#6a1e58" stroke="#3a0c30" stroke-width="0.8"/>
<circle cx="283.9" cy="242.2" r="2.2" fill="#6a1e58" stroke="#3a0c30" stroke-width="0.8"/>
<circle cx="282.0" cy="242.7" r="2.2" fill="#6a1e58" stroke="#3a0c30" stroke-width="0.8"/>
<circle cx="277.0" cy="241.4" r="2.2" fill="#6a1e58" stroke="#3a0c30" stroke-width="0.8"/>
<circle cx="273.4" cy="239.6" r="2.2" fill="#6a1e58" stroke="#3a0c30" stroke-width="0.8"/>
<circle cx="272.3" cy="238.1" r="2.2" fill="#6a1e58" stroke="#3a0c30" stroke-width="0.8"/>
<circle cx="268.6" cy="233.5" r="2.2" fill="#6a1e58" stroke="#3a0c30" stroke-width="0.8"/>
<circle cx="268.4" cy="230.2" r="2.2" fill="#6a1e58" stroke="#3a0c30" stroke-width="0.8"/>
<circle cx="268.9" cy="229.2" r="2.2" fill="#6a1e58" stroke="#3a0c30" stroke-width="0.8"/>
<circle cx="270.6" cy="224.7" r="2.2" fill="#6a1e58" stroke="#3a0c30" stroke-width="0.8"/>
<circle cx="273.3" cy="220.8" r="2.2" fill="#6a1e58" stroke="#3a0c30" stroke-width="0.8"/>
<circle cx="273.8" cy="219.5" r="2.2" fill="#6a1e58" stroke="#3a0c30" stroke-width="0.8"/>
<circle cx="277.0" cy="217.7" r="2.2" fill="#6a1e58" stroke="#3a0c30" stroke-width="0.8"/>
<circle cx="281.8" cy="217.6" r="2.2" fill="#6a1e58" stroke="#3a0c30" stroke-width="0.8"/>
<circle cx="285.0" cy="218.3" r="2.2" fill="#6a1e58" stroke="#3a0c30" stroke-width="0.8"/>
<circle cx="287.4" cy="220.2" r="2.2" fill="#6a1e58" stroke="#3a0c30" stroke-width="0.8"/>
<circle cx="291.5" cy="223.7" r="2.2" fill="#6a1e58" stroke="#3a0c30" stroke-width="0.8"/>
<circle cx="292.8" cy="226.7" r="2.2" fill="#6a1e58" stroke="#3a0c30" stroke-width="0.8"/>
<circle cx="294.4" cy="230.7" r="2.2" fill="#6a1e58" stroke="#3a0c30" stroke-width="0.8"/>
<circle cx="339.2" cy="227.8" r="2.6" fill="#5ac0cc" stroke="#2a6a78" stroke-width="0.6"/>
<circle cx="372.8" cy="228.3" r="2.6" fill="#5ac0cc" stroke="#2a6a78" stroke-width="0.6"/>
<circle cx="340.5" cy="223.8" r="2.6" fill="#5ac0cc" stroke="#2a6a78" stroke-width="0.6"/>
<circle cx="372.1" cy="232.6" r="2.6" fill="#5ac0cc" stroke="#2a6a78" stroke-width="0.6"/>
<circle cx="340.8" cy="235.3" r="2.6" fill="#5ac0cc" stroke="#2a6a78" stroke-width="0.6"/>
<circle cx="369.6" cy="237.9" r="2.6" fill="#5ac0cc" stroke="#2a6a78" stroke-width="0.6"/>
<circle cx="343.9" cy="239.2" r="2.6" fill="#8a2472" stroke="#4a1040" stroke-width="0.6"/>
<circle cx="366.1" cy="218.4" r="2.6" fill="#5ac0cc" stroke="#2a6a78" stroke-width="0.6"/>
<circle cx="369.7" cy="225.2" r="2.6" fill="#8a2472" stroke="#4a1040" stroke-width="0.6"/>
<circle cx="341.8" cy="230.9" r="2.6" fill="#5ac0cc" stroke="#2a6a78" stroke-width="0.6"/>
<circle cx="349.9" cy="216.7" r="2.6" fill="#8a2472" stroke="#4a1040" stroke-width="0.6"/>
<circle cx="351.9" cy="242.8" r="2.6" fill="#5ac0cc" stroke="#2a6a78" stroke-width="0.6"/>
<circle cx="365.2" cy="239.9" r="2.6" fill="#5ac0cc" stroke="#2a6a78" stroke-width="0.6"/>
<circle cx="360.1" cy="216.7" r="2.6" fill="#5ac0cc" stroke="#2a6a78" stroke-width="0.6"/>
<circle cx="345.5" cy="221.1" r="2.6" fill="#8a2472" stroke="#4a1040" stroke-width="0.6"/>
<circle cx="357.2" cy="242.8" r="2.6" fill="#5ac0cc" stroke="#2a6a78" stroke-width="0.6"/>
<circle cx="356.0" cy="216.6" r="2.6" fill="#5ac0cc" stroke="#2a6a78" stroke-width="0.6"/>
<circle cx="343.6" cy="226.6" r="2.6" fill="#5ac0cc" stroke="#2a6a78" stroke-width="0.6"/>
<circle cx="360.9" cy="241.0" r="2.6" fill="#8a2472" stroke="#4a1040" stroke-width="0.6"/>
<circle cx="366.3" cy="222.5" r="2.6" fill="#5ac0cc" stroke="#2a6a78" stroke-width="0.6"/>
<circle cx="345.0" cy="234.1" r="2.6" fill="#8a2472" stroke="#4a1040" stroke-width="0.6"/>
<circle cx="348.8" cy="238.7" r="2.6" fill="#8a2472" stroke="#4a1040" stroke-width="0.6"/>
<circle cx="367.4" cy="231.2" r="2.6" fill="#8a2472" stroke="#4a1040" stroke-width="0.6"/>
<circle cx="364.8" cy="235.8" r="2.6" fill="#5ac0cc" stroke="#2a6a78" stroke-width="0.6"/>
<circle cx="352.9" cy="219.6" r="2.6" fill="#8a2472" stroke="#4a1040" stroke-width="0.6"/>
<circle cx="360.9" cy="220.7" r="2.6" fill="#5ac0cc" stroke="#2a6a78" stroke-width="0.6"/>
<circle cx="365.3" cy="226.6" r="2.6" fill="#5ac0cc" stroke="#2a6a78" stroke-width="0.6"/>
<circle cx="352.9" cy="237.5" r="2.6" fill="#5ac0cc" stroke="#2a6a78" stroke-width="0.6"/>
<circle cx="347.9" cy="227.5" r="2.6" fill="#8a2472" stroke="#4a1040" stroke-width="0.6"/>
<circle cx="349.1" cy="233.3" r="2.6" fill="#5ac0cc" stroke="#2a6a78" stroke-width="0.6"/>
<circle cx="357.9" cy="236.7" r="2.6" fill="#8a2472" stroke="#4a1040" stroke-width="0.6"/>
<circle cx="362.9" cy="231.2" r="2.6" fill="#8a2472" stroke="#4a1040" stroke-width="0.6"/>
<circle cx="352.6" cy="223.8" r="2.6" fill="#8a2472" stroke="#4a1040" stroke-width="0.6"/>
<circle cx="360.8" cy="225.8" r="2.6" fill="#5ac0cc" stroke="#2a6a78" stroke-width="0.6"/>
<circle cx="356.7" cy="223.9" r="2.6" fill="#8a2472" stroke="#4a1040" stroke-width="0.6"/>
<circle cx="359.2" cy="233.0" r="2.6" fill="#8a2472" stroke="#4a1040" stroke-width="0.6"/>
<circle cx="352.5" cy="231.1" r="2.6" fill="#8a2472" stroke="#4a1040" stroke-width="0.6"/>
<circle cx="356.5" cy="229.9" r="2.6" fill="#8a2472" stroke="#4a1040" stroke-width="0.6"/>
<rect x="504" y="151.3" width="166" height="122.89999999999998" fill="none" stroke="#111" stroke-width="1.6"/>
<line x1="504" y1="263.6" x2="507.5" y2="263.6" stroke="#111" stroke-width="1.3"/>
<text x="499.5" y="267.8" text-anchor="end" font-size="11.7" fill="#1e1e1e" stroke="#1e1e1e" stroke-width="0.25" >2.0</text>
<line x1="504" y1="243.3" x2="507.5" y2="243.3" stroke="#111" stroke-width="1.3"/>
<text x="499.5" y="247.5" text-anchor="end" font-size="11.7" fill="#1e1e1e" stroke="#1e1e1e" stroke-width="0.25" >2.5</text>
<line x1="504" y1="223.0" x2="507.5" y2="223.0" stroke="#111" stroke-width="1.3"/>
<text x="499.5" y="227.2" text-anchor="end" font-size="11.7" fill="#1e1e1e" stroke="#1e1e1e" stroke-width="0.25" >3.0</text>
<line x1="504" y1="202.7" x2="507.5" y2="202.7" stroke="#111" stroke-width="1.3"/>
<text x="499.5" y="206.9" text-anchor="end" font-size="11.7" fill="#1e1e1e" stroke="#1e1e1e" stroke-width="0.25" >3.5</text>
<line x1="504" y1="182.4" x2="507.5" y2="182.4" stroke="#111" stroke-width="1.3"/>
<text x="499.5" y="186.6" text-anchor="end" font-size="11.7" fill="#1e1e1e" stroke="#1e1e1e" stroke-width="0.25" >4.0</text>
<line x1="504" y1="162.1" x2="507.5" y2="162.1" stroke="#111" stroke-width="1.3"/>
<text x="499.5" y="166.3" text-anchor="end" font-size="11.7" fill="#1e1e1e" stroke="#1e1e1e" stroke-width="0.25" >4.5</text>
<line x1="516.9" y1="274.2" x2="516.9" y2="270.7" stroke="#111" stroke-width="1.3"/>
<text x="516.9" y="287.5" text-anchor="middle" font-size="11.7" fill="#1e1e1e" stroke="#1e1e1e" stroke-width="0.25" >0</text>
<line x1="542.6" y1="274.2" x2="542.6" y2="270.7" stroke="#111" stroke-width="1.3"/>
<text x="542.6" y="287.5" text-anchor="middle" font-size="11.7" fill="#1e1e1e" stroke="#1e1e1e" stroke-width="0.25" >20</text>
<line x1="568.3" y1="274.2" x2="568.3" y2="270.7" stroke="#111" stroke-width="1.3"/>
<text x="568.3" y="287.5" text-anchor="middle" font-size="11.7" fill="#1e1e1e" stroke="#1e1e1e" stroke-width="0.25" >40</text>
<line x1="594.0" y1="274.2" x2="594.0" y2="270.7" stroke="#111" stroke-width="1.3"/>
<text x="594.0" y="287.5" text-anchor="middle" font-size="11.7" fill="#1e1e1e" stroke="#1e1e1e" stroke-width="0.25" >60</text>
<line x1="619.7" y1="274.2" x2="619.7" y2="270.7" stroke="#111" stroke-width="1.3"/>
<text x="619.7" y="287.5" text-anchor="middle" font-size="11.7" fill="#1e1e1e" stroke="#1e1e1e" stroke-width="0.25" >80</text>
<line x1="645.4" y1="274.2" x2="645.4" y2="270.7" stroke="#111" stroke-width="1.3"/>
<text x="645.4" y="287.5" text-anchor="middle" font-size="11.7" fill="#1e1e1e" stroke="#1e1e1e" stroke-width="0.25" >100</text>
<line x1="671.1" y1="274.2" x2="671.1" y2="270.7" stroke="#111" stroke-width="1.3"/>
<text x="671.1" y="287.5" text-anchor="middle" font-size="11.7" fill="#1e1e1e" stroke="#1e1e1e" stroke-width="0.25" >120</text>
<text x="0" y="0" transform="translate(471.8,210.5) rotate(-90)" text-anchor="middle" font-size="11.7" fill="#1e1e1e" stroke="#1e1e1e" stroke-width="0.25" dominant-baseline="central">Potential/V</text>
<text x="587.2" y="303.2" text-anchor="middle" font-size="11.7" fill="#1e1e1e" stroke="#1e1e1e" stroke-width="0.25" >Capacity(Co/Li<tspan font-size="8" dy="2.5">2</tspan><tspan dy="-2.5">O)/(mA·h/g)</tspan></text>
<text x="587.0" y="323.9" text-anchor="middle" font-size="11.7" fill="#1e1e1e" stroke="#1e1e1e" stroke-width="0.25" >(c)</text>
<line x1="529.7" y1="152" x2="529.7" y2="273.5" stroke="#111" stroke-width="1.5" stroke-dasharray="1.5,1.5"/>
<line x1="568.8" y1="152" x2="568.8" y2="273.5" stroke="#111" stroke-width="1.5" stroke-dasharray="1.5,1.5"/>
<line x1="598.9" y1="152" x2="598.9" y2="273.5" stroke="#111" stroke-width="1.5" stroke-dasharray="1.5,1.5"/>
<line x1="626" y1="152" x2="626" y2="273.5" stroke="#111" stroke-width="1.5" stroke-dasharray="1.5,1.5"/>
<line x1="650.8" y1="152" x2="650.8" y2="273.5" stroke="#111" stroke-width="1.5" stroke-dasharray="1.5,1.5"/>
<text x="517.3" y="168.6" text-anchor="middle" font-size="11.7" fill="#1e1e1e" stroke="#1e1e1e" stroke-width="0.25" >1 st</text>
<text x="548.5" y="168.6" text-anchor="middle" font-size="11.7" fill="#1e1e1e" stroke="#1e1e1e" stroke-width="0.25" >2 nd</text>
<text x="583.5" y="168.6" text-anchor="middle" font-size="11.7" fill="#1e1e1e" stroke="#1e1e1e" stroke-width="0.25" >3 rd</text>
<text x="612.5" y="168.6" text-anchor="middle" font-size="11.7" fill="#1e1e1e" stroke="#1e1e1e" stroke-width="0.25" >4 th</text>
<text x="638.5" y="168.6" text-anchor="middle" font-size="11.7" fill="#1e1e1e" stroke="#1e1e1e" stroke-width="0.25" >5 th</text>
<path d="M516.50,177.40 C516.64,179.48 517.05,186.73 517.33,189.89 C517.60,193.04 517.88,194.38 518.15,196.32 C518.42,198.27 518.70,199.91 518.98,201.54 C519.25,203.16 519.52,204.64 519.80,206.08 C520.07,207.53 520.35,208.88 520.62,210.19 C520.90,211.51 521.18,212.76 521.45,213.99 C521.73,215.21 522.00,216.38 522.27,217.53 C522.55,218.68 522.83,219.79 523.10,220.88 C523.38,221.97 523.65,223.02 523.93,224.06 C524.20,225.10 524.48,226.11 524.75,227.11 C525.02,228.10 525.30,229.07 525.58,230.03 C525.85,230.99 526.13,231.93 526.40,232.85 C526.68,233.78 526.95,234.69 527.23,235.58 C527.50,236.48 527.78,237.36 528.05,238.23 C528.33,239.10 528.60,239.95 528.88,240.80 C529.15,241.64 529.56,242.88 529.70,243.30" fill="none" stroke="#6a2e24" stroke-width="1.4" stroke-linejoin="round" stroke-linecap="round" />
<path d="M529.70,243.30 C529.90,241.15 530.49,234.28 530.88,230.39 C531.27,226.51 531.67,223.12 532.06,220.00 C532.45,216.87 532.84,214.15 533.24,211.63 C533.63,209.11 534.02,206.92 534.42,204.89 C534.81,202.86 535.20,201.10 535.60,199.46 C535.99,197.83 536.38,196.41 536.78,195.09 C537.17,193.78 537.56,192.63 537.95,191.58 C538.35,190.52 538.74,189.60 539.13,188.74 C539.53,187.89 539.92,187.15 540.31,186.46 C540.71,185.78 541.10,185.18 541.49,184.63 C541.88,184.07 542.28,183.59 542.67,183.15 C543.06,182.70 543.46,182.31 543.85,181.96 C544.24,181.60 544.64,181.29 545.03,181.00 C545.42,180.71 545.82,180.46 546.21,180.23 C546.60,179.99 546.99,179.79 547.39,179.60 C547.78,179.42 548.17,179.25 548.57,179.10 C548.96,178.95 549.35,178.82 549.75,178.70 C550.14,178.58 550.53,178.47 550.92,178.38 C551.32,178.28 551.71,178.19 552.10,178.11 C552.50,178.04 552.89,177.97 553.28,177.90 C553.68,177.84 554.07,177.79 554.46,177.73 C554.86,177.68 555.25,177.64 555.64,177.60 C556.03,177.56 556.43,177.52 556.82,177.49 C557.21,177.46 557.80,177.41 558.00,177.40" fill="none" stroke="#111" stroke-width="1.7" stroke-linejoin="round" stroke-linecap="round" />
<path d="M558.00,177.40 C558.11,179.48 558.45,186.73 558.67,189.89 C558.90,193.04 559.12,194.38 559.35,196.32 C559.58,198.27 559.80,199.91 560.02,201.54 C560.25,203.16 560.48,204.64 560.70,206.08 C560.93,207.53 561.15,208.88 561.38,210.19 C561.60,211.51 561.82,212.76 562.05,213.99 C562.27,215.21 562.50,216.38 562.73,217.53 C562.95,218.68 563.17,219.79 563.40,220.88 C563.62,221.97 563.85,223.02 564.07,224.06 C564.30,225.10 564.52,226.11 564.75,227.11 C564.98,228.10 565.20,229.07 565.42,230.03 C565.65,230.99 565.87,231.93 566.10,232.85 C566.32,233.78 566.55,234.69 566.77,235.58 C567.00,236.48 567.22,237.36 567.45,238.23 C567.67,239.10 567.90,239.95 568.12,240.80 C568.35,241.64 568.69,242.88 568.80,243.30" fill="none" stroke="#6a2e24" stroke-width="1.4" stroke-linejoin="round" stroke-linecap="round" />
<path d="M568.80,243.30 C568.95,241.15 569.38,234.28 569.67,230.39 C569.96,226.51 570.25,223.12 570.54,220.00 C570.83,216.87 571.12,214.15 571.41,211.63 C571.70,209.11 571.99,206.92 572.28,204.89 C572.57,202.86 572.86,201.10 573.15,199.46 C573.44,197.83 573.73,196.41 574.02,195.09 C574.32,193.78 574.61,192.63 574.90,191.58 C575.19,190.52 575.48,189.60 575.77,188.74 C576.06,187.89 576.35,187.15 576.64,186.46 C576.93,185.78 577.22,185.18 577.51,184.63 C577.80,184.07 578.09,183.59 578.38,183.15 C578.67,182.70 578.96,182.31 579.25,181.96 C579.54,181.60 579.83,181.29 580.12,181.00 C580.41,180.71 580.70,180.46 580.99,180.23 C581.28,179.99 581.57,179.79 581.86,179.60 C582.15,179.42 582.44,179.25 582.73,179.10 C583.02,178.95 583.31,178.82 583.60,178.70 C583.89,178.58 584.18,178.47 584.48,178.38 C584.77,178.28 585.06,178.19 585.35,178.11 C585.64,178.04 585.93,177.97 586.22,177.90 C586.51,177.84 586.80,177.79 587.09,177.73 C587.38,177.68 587.67,177.64 587.96,177.60 C588.25,177.56 588.54,177.52 588.83,177.49 C589.12,177.46 589.55,177.41 589.70,177.40" fill="none" stroke="#111" stroke-width="1.7" stroke-linejoin="round" stroke-linecap="round" />
<path d="M589.70,177.40 C589.80,179.48 590.08,186.73 590.28,189.89 C590.47,193.04 590.66,194.38 590.85,196.32 C591.04,198.27 591.23,199.91 591.43,201.54 C591.62,203.16 591.81,204.64 592.00,206.08 C592.19,207.53 592.38,208.88 592.58,210.19 C592.77,211.51 592.96,212.76 593.15,213.99 C593.34,215.21 593.53,216.38 593.73,217.53 C593.92,218.68 594.11,219.79 594.30,220.88 C594.49,221.97 594.68,223.02 594.88,224.06 C595.07,225.10 595.26,226.11 595.45,227.11 C595.64,228.10 595.83,229.07 596.02,230.03 C596.22,230.99 596.41,231.93 596.60,232.85 C596.79,233.78 596.98,234.69 597.17,235.58 C597.37,236.48 597.56,237.36 597.75,238.23 C597.94,239.10 598.13,239.95 598.32,240.80 C598.52,241.64 598.80,242.88 598.90,243.30" fill="none" stroke="#6a2e24" stroke-width="1.4" stroke-linejoin="round" stroke-linecap="round" />
<path d="M598.90,243.30 C599.02,241.15 599.40,234.28 599.65,230.39 C599.90,226.51 600.15,223.12 600.40,220.00 C600.65,216.87 600.90,214.15 601.15,211.63 C601.40,209.11 601.65,206.92 601.90,204.89 C602.15,202.86 602.40,201.10 602.65,199.46 C602.90,197.83 603.15,196.41 603.40,195.09 C603.65,193.78 603.90,192.63 604.15,191.58 C604.40,190.52 604.65,189.60 604.90,188.74 C605.15,187.89 605.40,187.15 605.65,186.46 C605.90,185.78 606.15,185.18 606.40,184.63 C606.65,184.07 606.90,183.59 607.15,183.15 C607.40,182.70 607.65,182.31 607.90,181.96 C608.15,181.60 608.40,181.29 608.65,181.00 C608.90,180.71 609.15,180.46 609.40,180.23 C609.65,179.99 609.90,179.79 610.15,179.60 C610.40,179.42 610.65,179.25 610.90,179.10 C611.15,178.95 611.40,178.82 611.65,178.70 C611.90,178.58 612.15,178.47 612.40,178.38 C612.65,178.28 612.90,178.19 613.15,178.11 C613.40,178.04 613.65,177.97 613.90,177.90 C614.15,177.84 614.40,177.79 614.65,177.73 C614.90,177.68 615.15,177.64 615.40,177.60 C615.65,177.56 615.90,177.52 616.15,177.49 C616.40,177.46 616.77,177.41 616.90,177.40" fill="none" stroke="#111" stroke-width="1.7" stroke-linejoin="round" stroke-linecap="round" />
<path d="M616.90,177.40 C616.99,179.48 617.28,186.73 617.47,189.89 C617.66,193.04 617.85,194.38 618.04,196.32 C618.23,198.27 618.42,199.91 618.61,201.54 C618.80,203.16 618.99,204.64 619.17,206.08 C619.36,207.53 619.55,208.88 619.74,210.19 C619.93,211.51 620.12,212.76 620.31,213.99 C620.50,215.21 620.69,216.38 620.88,217.53 C621.07,218.68 621.26,219.79 621.45,220.88 C621.64,221.97 621.83,223.02 622.02,224.06 C622.21,225.10 622.40,226.11 622.59,227.11 C622.78,228.10 622.97,229.07 623.16,230.03 C623.35,230.99 623.54,231.93 623.73,232.85 C623.91,233.78 624.10,234.69 624.29,235.58 C624.48,236.48 624.67,237.36 624.86,238.23 C625.05,239.10 625.24,239.95 625.43,240.80 C625.62,241.64 625.91,242.88 626.00,243.30" fill="none" stroke="#6a2e24" stroke-width="1.4" stroke-linejoin="round" stroke-linecap="round" />
<path d="M626.00,243.30 C626.11,241.15 626.44,234.28 626.65,230.39 C626.87,226.51 627.09,223.12 627.31,220.00 C627.53,216.87 627.74,214.15 627.96,211.63 C628.18,209.11 628.40,206.92 628.62,204.89 C628.83,202.86 629.05,201.10 629.27,199.46 C629.49,197.83 629.71,196.41 629.92,195.09 C630.14,193.78 630.36,192.63 630.58,191.58 C630.80,190.52 631.02,189.60 631.23,188.74 C631.45,187.89 631.67,187.15 631.89,186.46 C632.11,185.78 632.32,185.18 632.54,184.63 C632.76,184.07 632.98,183.59 633.20,183.15 C633.41,182.70 633.63,182.31 633.85,181.96 C634.07,181.60 634.29,181.29 634.50,181.00 C634.72,180.71 634.94,180.46 635.16,180.23 C635.38,179.99 635.59,179.79 635.81,179.60 C636.03,179.42 636.25,179.25 636.47,179.10 C636.68,178.95 636.90,178.82 637.12,178.70 C637.34,178.58 637.56,178.47 637.78,178.38 C637.99,178.28 638.21,178.19 638.43,178.11 C638.65,178.04 638.87,177.97 639.08,177.90 C639.30,177.84 639.52,177.79 639.74,177.73 C639.96,177.68 640.17,177.64 640.39,177.60 C640.61,177.56 640.83,177.52 641.05,177.49 C641.26,177.46 641.59,177.41 641.70,177.40" fill="none" stroke="#111" stroke-width="1.7" stroke-linejoin="round" stroke-linecap="round" />
<path d="M641.70,177.40 C641.79,179.48 642.08,186.73 642.27,189.89 C642.46,193.04 642.65,194.38 642.84,196.32 C643.03,198.27 643.22,199.91 643.41,201.54 C643.60,203.16 643.79,204.64 643.98,206.08 C644.16,207.53 644.35,208.88 644.54,210.19 C644.73,211.51 644.92,212.76 645.11,213.99 C645.30,215.21 645.49,216.38 645.68,217.53 C645.87,218.68 646.06,219.79 646.25,220.88 C646.44,221.97 646.63,223.02 646.82,224.06 C647.01,225.10 647.20,226.11 647.39,227.11 C647.58,228.10 647.77,229.07 647.96,230.03 C648.15,230.99 648.34,231.93 648.52,232.85 C648.71,233.78 648.90,234.69 649.09,235.58 C649.28,236.48 649.47,237.36 649.66,238.23 C649.85,239.10 650.04,239.95 650.23,240.80 C650.42,241.64 650.71,242.88 650.80,243.30" fill="none" stroke="#6a2e24" stroke-width="1.4" stroke-linejoin="round" stroke-linecap="round" />
<line x1="588.6" y1="253" x2="608.3" y2="253" stroke="#6a2e24" stroke-width="1.6"/>
<line x1="588.6" y1="265.6" x2="608.3" y2="265.6" stroke="#111" stroke-width="1.8"/>
<text x="611.7" y="257.4" text-anchor="start" font-size="11.7" fill="#1e1e1e" stroke="#1e1e1e" stroke-width="0.25" >Discharge</text>
<text x="611.7" y="269.8" text-anchor="start" font-size="11.7" fill="#1e1e1e" stroke="#1e1e1e" stroke-width="0.25" >Charge</text>
<rect x="38.5" y="339.2" width="161.5" height="120.10000000000002" fill="none" stroke="#111" stroke-width="1.6"/>
<line x1="38.5" y1="448.9" x2="42.0" y2="448.9" stroke="#111" stroke-width="1.3"/>
<text x="34.0" y="453.1" text-anchor="end" font-size="11.7" fill="#1e1e1e" stroke="#1e1e1e" stroke-width="0.25" >1.5</text>
<line x1="38.5" y1="430.6" x2="42.0" y2="430.6" stroke="#111" stroke-width="1.3"/>
<text x="34.0" y="434.8" text-anchor="end" font-size="11.7" fill="#1e1e1e" stroke="#1e1e1e" stroke-width="0.25" >2.0</text>
<line x1="38.5" y1="412.3" x2="42.0" y2="412.3" stroke="#111" stroke-width="1.3"/>
<text x="34.0" y="416.5" text-anchor="end" font-size="11.7" fill="#1e1e1e" stroke="#1e1e1e" stroke-width="0.25" >2.5</text>
<line x1="38.5" y1="394.0" x2="42.0" y2="394.0" stroke="#111" stroke-width="1.3"/>
<text x="34.0" y="398.2" text-anchor="end" font-size="11.7" fill="#1e1e1e" stroke="#1e1e1e" stroke-width="0.25" >3.0</text>
<line x1="38.5" y1="375.7" x2="42.0" y2="375.7" stroke="#111" stroke-width="1.3"/>
<text x="34.0" y="379.9" text-anchor="end" font-size="11.7" fill="#1e1e1e" stroke="#1e1e1e" stroke-width="0.25" >3.5</text>
<line x1="38.5" y1="357.4" x2="42.0" y2="357.4" stroke="#111" stroke-width="1.3"/>
<text x="34.0" y="361.6" text-anchor="end" font-size="11.7" fill="#1e1e1e" stroke="#1e1e1e" stroke-width="0.25" >4.0</text>
<line x1="38.5" y1="339.1" x2="42.0" y2="339.1" stroke="#111" stroke-width="1.3"/>
<text x="34.0" y="343.3" text-anchor="end" font-size="11.7" fill="#1e1e1e" stroke="#1e1e1e" stroke-width="0.25" >4.5</text>
<line x1="51.4" y1="459.3" x2="51.4" y2="455.8" stroke="#111" stroke-width="1.3"/>
<text x="51.4" y="473.2" text-anchor="middle" font-size="11.7" fill="#1e1e1e" stroke="#1e1e1e" stroke-width="0.25" >0</text>
<line x1="78.3" y1="459.3" x2="78.3" y2="455.8" stroke="#111" stroke-width="1.3"/>
<text x="78.3" y="473.2" text-anchor="middle" font-size="11.7" fill="#1e1e1e" stroke="#1e1e1e" stroke-width="0.25" >40</text>
<line x1="105.2" y1="459.3" x2="105.2" y2="455.8" stroke="#111" stroke-width="1.3"/>
<text x="105.2" y="473.2" text-anchor="middle" font-size="11.7" fill="#1e1e1e" stroke="#1e1e1e" stroke-width="0.25" >80</text>
<line x1="132.1" y1="459.3" x2="132.1" y2="455.8" stroke="#111" stroke-width="1.3"/>
<text x="132.1" y="473.2" text-anchor="middle" font-size="11.7" fill="#1e1e1e" stroke="#1e1e1e" stroke-width="0.25" >120</text>
<line x1="159.0" y1="459.3" x2="159.0" y2="455.8" stroke="#111" stroke-width="1.3"/>
<text x="159.0" y="473.2" text-anchor="middle" font-size="11.7" fill="#1e1e1e" stroke="#1e1e1e" stroke-width="0.25" >160</text>
<line x1="185.9" y1="459.3" x2="185.9" y2="455.8" stroke="#111" stroke-width="1.3"/>
<text x="185.9" y="473.2" text-anchor="middle" font-size="11.7" fill="#1e1e1e" stroke="#1e1e1e" stroke-width="0.25" >200</text>
<text x="0" y="0" transform="translate(5.9,396.2) rotate(-90)" text-anchor="middle" font-size="11.7" fill="#1e1e1e" stroke="#1e1e1e" stroke-width="0.25" dominant-baseline="central">Potential/V</text>
<text x="120.2" y="489.7" text-anchor="middle" font-size="11.7" fill="#1e1e1e" stroke="#1e1e1e" stroke-width="0.25" >Capacity(LiFePO<tspan font-size="8" dy="2.5">4</tspan><tspan dy="-2.5">/Co/Li</tspan><tspan font-size="8" dy="2.5">2</tspan><tspan dy="-2.5">O)/(mA·h/g)</tspan></text>
<text x="118.9" y="507.8" text-anchor="middle" font-size="11.7" fill="#1e1e1e" stroke="#1e1e1e" stroke-width="0.25" >(d)</text>
<path d="M51.70,443.60 C51.77,440.38 51.90,429.90 52.10,424.30 C52.30,418.70 52.62,415.72 52.90,410.00 C53.18,404.28 53.52,395.00 53.80,390.00 C54.08,385.00 54.13,382.23 54.60,380.00 C55.07,377.77 52.37,377.18 56.60,376.60 C60.83,376.02 71.10,376.55 80.00,376.50 C88.90,376.45 101.67,376.42 110.00,376.30 C118.33,376.18 124.28,376.03 130.00,375.80 C135.72,375.57 140.97,375.23 144.30,374.90 C147.63,374.57 148.63,374.20 150.00,373.80 C151.37,373.40 151.60,373.30 152.50,372.50 C153.40,371.70 154.48,371.08 155.40,369.00 C156.32,366.92 157.00,363.22 158.00,360.00 C159.00,356.78 160.83,351.42 161.40,349.70" fill="none" stroke="#111" stroke-width="2.8" stroke-linejoin="round" stroke-linecap="round" />
<path d="M51.30,425.00 C51.47,421.67 51.95,411.17 52.30,405.00 C52.65,398.83 52.95,392.33 53.40,388.00 C53.85,383.67 54.32,380.87 55.00,379.00 C55.68,377.13 53.33,377.22 57.50,376.80 C61.67,376.38 71.25,376.58 80.00,376.50 C88.75,376.42 101.67,376.42 110.00,376.30 C118.33,376.18 124.28,376.03 130.00,375.80 C135.72,375.57 140.97,375.23 144.30,374.90 C147.63,374.57 148.63,374.20 150.00,373.80 C151.37,373.40 151.45,372.97 152.50,372.50 C153.55,372.03 155.05,372.42 156.30,371.00 C157.55,369.58 158.57,366.55 160.00,364.00 C161.43,361.45 163.38,357.65 164.90,355.70 C166.42,353.75 167.40,353.30 169.10,352.30 C170.80,351.30 174.10,350.13 175.10,349.70" fill="none" stroke="#6a2e24" stroke-width="2.2" stroke-linejoin="round" stroke-linecap="round" />
<path d="M51.10,418.60 C51.33,415.50 52.05,405.60 52.50,400.00 C52.95,394.40 53.28,388.67 53.80,385.00 C54.32,381.33 54.90,379.37 55.60,378.00 C56.30,376.63 53.93,377.05 58.00,376.80 C62.07,376.55 71.33,376.58 80.00,376.50 C88.67,376.42 101.67,376.42 110.00,376.30 C118.33,376.18 124.28,376.03 130.00,375.80 C135.72,375.57 140.97,375.23 144.30,374.90 C147.63,374.57 148.55,374.12 150.00,373.80 C151.45,373.48 151.83,373.30 153.00,373.00 C154.17,372.70 155.67,373.17 157.00,372.00 C158.33,370.83 159.55,368.17 161.00,366.00 C162.45,363.83 163.92,360.72 165.70,359.00 C167.48,357.28 169.82,356.62 171.70,355.70 C173.58,354.78 175.00,354.50 177.00,353.50 C179.00,352.50 182.58,350.33 183.70,349.70" fill="none" stroke="#111" stroke-width="2.6" stroke-linejoin="round" stroke-linecap="round" />
<line x1="73.1" y1="423.1" x2="92.9" y2="423.1" stroke="#111" stroke-width="2.6"/>
<text x="98.0" y="427.3" text-anchor="start" font-size="11.7" fill="#1e1e1e" stroke="#1e1e1e" stroke-width="0.25" >Without additive</text>
<line x1="73.1" y1="436.9" x2="92.9" y2="436.9" stroke="#6a2e24" stroke-width="2.6"/>
<text x="98.0" y="441.1" text-anchor="start" font-size="11.7" fill="#1e1e1e" stroke="#1e1e1e" stroke-width="0.25" >With 4.8% additive</text>
<line x1="73.1" y1="450.7" x2="92.9" y2="450.7" stroke="#111" stroke-width="2.6"/>
<text x="98.0" y="454.9" text-anchor="start" font-size="11.7" fill="#1e1e1e" stroke="#1e1e1e" stroke-width="0.25" >With 8% additive</text>
<rect x="273.8" y="338.2" width="163.2" height="121.19999999999999" fill="none" stroke="#111" stroke-width="1.6"/>
<line x1="273.8" y1="458.7" x2="277.3" y2="458.7" stroke="#111" stroke-width="1.3"/>
<text x="268.5" y="462.9" text-anchor="end" font-size="11.7" fill="#1e1e1e" stroke="#1e1e1e" stroke-width="0.25" >0.5</text>
<line x1="273.8" y1="443.7" x2="277.3" y2="443.7" stroke="#111" stroke-width="1.3"/>
<text x="268.5" y="447.9" text-anchor="end" font-size="11.7" fill="#1e1e1e" stroke="#1e1e1e" stroke-width="0.25" >1.0</text>
<line x1="273.8" y1="428.7" x2="277.3" y2="428.7" stroke="#111" stroke-width="1.3"/>
<text x="268.5" y="432.9" text-anchor="end" font-size="11.7" fill="#1e1e1e" stroke="#1e1e1e" stroke-width="0.25" >1.5</text>
<line x1="273.8" y1="413.6" x2="277.3" y2="413.6" stroke="#111" stroke-width="1.3"/>
<text x="268.5" y="417.8" text-anchor="end" font-size="11.7" fill="#1e1e1e" stroke="#1e1e1e" stroke-width="0.25" >2.0</text>
<line x1="273.8" y1="398.6" x2="277.3" y2="398.6" stroke="#111" stroke-width="1.3"/>
<text x="268.5" y="402.8" text-anchor="end" font-size="11.7" fill="#1e1e1e" stroke="#1e1e1e" stroke-width="0.25" >2.5</text>
<line x1="273.8" y1="383.6" x2="277.3" y2="383.6" stroke="#111" stroke-width="1.3"/>
<text x="268.5" y="387.8" text-anchor="end" font-size="11.7" fill="#1e1e1e" stroke="#1e1e1e" stroke-width="0.25" >3.0</text>
<line x1="273.8" y1="368.6" x2="277.3" y2="368.6" stroke="#111" stroke-width="1.3"/>
<text x="268.5" y="372.8" text-anchor="end" font-size="11.7" fill="#1e1e1e" stroke="#1e1e1e" stroke-width="0.25" >3.5</text>
<line x1="273.8" y1="353.5" x2="277.3" y2="353.5" stroke="#111" stroke-width="1.3"/>
<text x="268.5" y="357.7" text-anchor="end" font-size="11.7" fill="#1e1e1e" stroke="#1e1e1e" stroke-width="0.25" >4.0</text>
<line x1="273.8" y1="338.5" x2="277.3" y2="338.5" stroke="#111" stroke-width="1.3"/>
<text x="268.5" y="342.7" text-anchor="end" font-size="11.7" fill="#1e1e1e" stroke="#1e1e1e" stroke-width="0.25" >4.5</text>
<line x1="285.4" y1="459.4" x2="285.4" y2="455.9" stroke="#111" stroke-width="1.3"/>
<text x="285.4" y="472.8" text-anchor="middle" font-size="11.7" fill="#1e1e1e" stroke="#1e1e1e" stroke-width="0.25" >0</text>
<line x1="315.7" y1="459.4" x2="315.7" y2="455.9" stroke="#111" stroke-width="1.3"/>
<text x="315.7" y="472.8" text-anchor="middle" font-size="11.7" fill="#1e1e1e" stroke="#1e1e1e" stroke-width="0.25" >50</text>
<line x1="346.0" y1="459.4" x2="346.0" y2="455.9" stroke="#111" stroke-width="1.3"/>
<text x="346.0" y="472.8" text-anchor="middle" font-size="11.7" fill="#1e1e1e" stroke="#1e1e1e" stroke-width="0.25" >100</text>
<line x1="376.3" y1="459.4" x2="376.3" y2="455.9" stroke="#111" stroke-width="1.3"/>
<text x="376.3" y="472.8" text-anchor="middle" font-size="11.7" fill="#1e1e1e" stroke="#1e1e1e" stroke-width="0.25" >150</text>
<line x1="406.6" y1="459.4" x2="406.6" y2="455.9" stroke="#111" stroke-width="1.3"/>
<text x="406.6" y="472.8" text-anchor="middle" font-size="11.7" fill="#1e1e1e" stroke="#1e1e1e" stroke-width="0.25" >200</text>
<line x1="436.9" y1="459.4" x2="436.9" y2="455.9" stroke="#111" stroke-width="1.3"/>
<text x="436.9" y="472.8" text-anchor="middle" font-size="11.7" fill="#1e1e1e" stroke="#1e1e1e" stroke-width="0.25" >250</text>
<text x="0" y="0" transform="translate(239.2,399.8) rotate(-90)" text-anchor="middle" font-size="11.7" fill="#1e1e1e" stroke="#1e1e1e" stroke-width="0.25" dominant-baseline="central">Potential/V</text>
<text x="358.0" y="488.7" text-anchor="middle" font-size="11.7" fill="#1e1e1e" stroke="#1e1e1e" stroke-width="0.25" >Capacity(LiFePO<tspan font-size="8" dy="2.5">4</tspan><tspan dy="-2.5">/Co/Li</tspan><tspan font-size="8" dy="2.5">2</tspan><tspan dy="-2.5">O)/(mA·h/g)</tspan></text>
<text x="355.6" y="508.0" text-anchor="middle" font-size="11.7" fill="#1e1e1e" stroke="#1e1e1e" stroke-width="0.25" >(e)</text>
<path d="M285.50,347.10 C285.52,349.58 285.53,357.93 285.60,362.00 C285.67,366.07 285.65,369.33 285.90,371.50 C286.15,373.67 284.15,374.30 287.10,375.00 C290.05,375.70 298.47,375.52 303.60,375.70 C308.73,375.88 313.15,376.22 317.90,376.10 C322.65,375.98 327.35,375.53 332.10,375.00 C336.85,374.47 342.58,373.38 346.40,372.90 C350.22,372.42 351.62,372.57 355.00,372.10 C358.38,371.63 363.70,370.62 366.70,370.10 C369.70,369.58 371.30,369.52 373.00,369.00 C374.70,368.48 375.60,367.92 376.90,367.00 C378.20,366.08 379.75,364.87 380.80,363.50 C381.85,362.13 382.55,360.50 383.20,358.80 C383.85,357.10 384.18,355.20 384.70,353.30 C385.22,351.40 386.03,348.38 386.30,347.40" fill="none" stroke="#111" stroke-width="2.6" stroke-linejoin="round" stroke-linecap="round" />
<path d="M285.50,347.10 C285.52,349.58 285.53,357.93 285.60,362.00 C285.67,366.07 285.65,369.33 285.90,371.50 C286.15,373.67 284.15,374.30 287.10,375.00 C290.05,375.70 298.47,375.52 303.60,375.70 C308.73,375.88 313.15,376.22 317.90,376.10 C322.65,375.98 327.35,375.53 332.10,375.00 C336.85,374.47 342.58,373.38 346.40,372.90 C350.22,372.42 351.62,372.57 355.00,372.10 C358.38,371.63 363.87,370.53 366.70,370.10 C369.53,369.67 370.03,369.72 372.00,369.50 C373.97,369.28 376.38,369.55 378.50,368.80 C380.62,368.05 383.02,366.53 384.70,365.00 C386.38,363.47 387.42,361.42 388.60,359.60 C389.78,357.78 390.62,356.13 391.80,354.10 C392.98,352.07 395.05,348.52 395.70,347.40" fill="none" stroke="#111" stroke-width="2.6" stroke-linejoin="round" stroke-linecap="round" />
<path d="M285.40,459.00 C285.47,454.17 285.63,437.33 285.80,430.00 C285.97,422.67 285.93,419.88 286.40,415.00 C286.87,410.12 287.77,404.15 288.60,400.70 C289.43,397.25 290.22,395.73 291.40,394.30 C292.58,392.87 294.15,392.93 295.70,392.10 C297.25,391.27 299.15,390.48 300.70,389.30 C302.25,388.12 303.57,386.43 305.00,385.00 C306.43,383.57 307.63,382.02 309.30,380.70 C310.97,379.38 312.62,377.87 315.00,377.10 C317.38,376.33 320.75,376.17 323.60,376.10 C326.45,376.03 329.48,376.37 332.10,376.70 C334.72,377.03 337.38,377.43 339.30,378.10 C341.22,378.77 341.70,378.60 343.60,380.70 C345.50,382.80 348.57,386.65 350.70,390.70 C352.83,394.75 355.08,400.95 356.40,405.00 C357.72,409.05 358.28,410.98 358.60,415.00 C358.92,419.02 358.35,426.75 358.30,429.10" fill="none" stroke="#111" stroke-width="2.6" stroke-linejoin="round" stroke-linecap="round" />
<path d="M285.40,459.00 C285.47,454.17 285.63,437.33 285.80,430.00 C285.97,422.67 285.93,419.88 286.40,415.00 C286.87,410.12 287.77,404.15 288.60,400.70 C289.43,397.25 290.22,395.73 291.40,394.30 C292.58,392.87 294.15,392.93 295.70,392.10 C297.25,391.27 299.15,390.48 300.70,389.30 C302.25,388.12 303.57,386.43 305.00,385.00 C306.43,383.57 307.63,382.02 309.30,380.70 C310.97,379.38 312.62,377.87 315.00,377.10 C317.38,376.33 320.75,376.17 323.60,376.10 C326.45,376.03 329.48,376.37 332.10,376.70 C334.72,377.03 336.98,377.72 339.30,378.10 C341.62,378.48 343.87,378.45 346.00,379.00 C348.13,379.55 349.88,379.68 352.10,381.40 C354.32,383.12 357.38,386.08 359.30,389.30 C361.22,392.52 362.53,396.42 363.60,400.70 C364.67,404.98 365.30,410.27 365.70,415.00 C366.10,419.73 365.95,426.75 366.00,429.10" fill="none" stroke="#111" stroke-width="2.6" stroke-linejoin="round" stroke-linecap="round" />
<line x1="307.4" y1="436.3" x2="329.5" y2="436.3" stroke="#111" stroke-width="2.8"/>
<text x="335.1" y="440.5" text-anchor="start" font-size="11.7" fill="#1e1e1e" stroke="#1e1e1e" stroke-width="0.25" >With 4.8% additive</text>
<line x1="307.4" y1="450.2" x2="329.5" y2="450.2" stroke="#111" stroke-width="2.8"/>
<text x="335.1" y="454.4" text-anchor="start" font-size="11.7" fill="#1e1e1e" stroke="#1e1e1e" stroke-width="0.25" >Without additive</text>
<rect x="529.4" y="337.7" width="163.70000000000005" height="121.69999999999999" fill="none" stroke="#111" stroke-width="1.6"/>
<line x1="529.4" y1="435.1" x2="532.9" y2="435.1" stroke="#111" stroke-width="1.3"/>
<text x="525.2" y="439.3" text-anchor="end" font-size="11.7" fill="#1e1e1e" stroke="#1e1e1e" stroke-width="0.25" >50</text>
<line x1="529.4" y1="410.8" x2="532.9" y2="410.8" stroke="#111" stroke-width="1.3"/>
<text x="525.2" y="415.0" text-anchor="end" font-size="11.7" fill="#1e1e1e" stroke="#1e1e1e" stroke-width="0.25" >100</text>
<line x1="529.4" y1="386.5" x2="532.9" y2="386.5" stroke="#111" stroke-width="1.3"/>
<text x="525.2" y="390.7" text-anchor="end" font-size="11.7" fill="#1e1e1e" stroke="#1e1e1e" stroke-width="0.25" >150</text>
<line x1="529.4" y1="362.2" x2="532.9" y2="362.2" stroke="#111" stroke-width="1.3"/>
<text x="525.2" y="366.4" text-anchor="end" font-size="11.7" fill="#1e1e1e" stroke="#1e1e1e" stroke-width="0.25" >200</text>
<line x1="529.4" y1="337.9" x2="532.9" y2="337.9" stroke="#111" stroke-width="1.3"/>
<text x="525.2" y="342.1" text-anchor="end" font-size="11.7" fill="#1e1e1e" stroke="#1e1e1e" stroke-width="0.25" >250</text>
<text x="521.7" y="472.8" text-anchor="middle" font-size="11.7" fill="#1e1e1e" stroke="#1e1e1e" stroke-width="0.25" >0</text>
<line x1="561.3" y1="459.4" x2="561.3" y2="455.9" stroke="#111" stroke-width="1.3"/>
<text x="561.3" y="472.8" text-anchor="middle" font-size="11.7" fill="#1e1e1e" stroke="#1e1e1e" stroke-width="0.25" >20</text>
<line x1="593.1" y1="459.4" x2="593.1" y2="455.9" stroke="#111" stroke-width="1.3"/>
<text x="593.1" y="472.8" text-anchor="middle" font-size="11.7" fill="#1e1e1e" stroke="#1e1e1e" stroke-width="0.25" >40</text>
<line x1="624.9" y1="459.4" x2="624.9" y2="455.9" stroke="#111" stroke-width="1.3"/>
<text x="624.9" y="472.8" text-anchor="middle" font-size="11.7" fill="#1e1e1e" stroke="#1e1e1e" stroke-width="0.25" >60</text>
<line x1="656.7" y1="459.4" x2="656.7" y2="455.9" stroke="#111" stroke-width="1.3"/>
<text x="656.7" y="472.8" text-anchor="middle" font-size="11.7" fill="#1e1e1e" stroke="#1e1e1e" stroke-width="0.25" >80</text>
<line x1="688.5" y1="459.4" x2="688.5" y2="455.9" stroke="#111" stroke-width="1.3"/>
<text x="688.5" y="472.8" text-anchor="middle" font-size="11.7" fill="#1e1e1e" stroke="#1e1e1e" stroke-width="0.25" >100</text>
<text x="0" y="0" transform="translate(476.8,398.0) rotate(-90)" text-anchor="middle" font-size="11.7" fill="#1e1e1e" stroke="#1e1e1e" stroke-width="0.25" dominant-baseline="central">Capacity</text>
<text x="0" y="0" transform="translate(489.5,400.0) rotate(-90)" text-anchor="middle" font-size="11.7" fill="#1e1e1e" stroke="#1e1e1e" stroke-width="0.25" dominant-baseline="central">(LiFePO<tspan font-size="8" dy="2.5">4</tspan><tspan dy="-2.5">/Co/Li</tspan><tspan font-size="8" dy="2.5">2</tspan><tspan dy="-2.5">O)/(mA·h/g)</tspan></text>
<text x="610.8" y="488.7" text-anchor="middle" font-size="11.7" fill="#1e1e1e" stroke="#1e1e1e" stroke-width="0.25" >Cycle number</text>
<text x="611.4" y="508.0" text-anchor="middle" font-size="11.7" fill="#1e1e1e" stroke="#1e1e1e" stroke-width="0.25" >(f)</text>
<path d="M530.30,393.40 C530.58,393.75 531.15,395.00 532.00,395.50 C532.85,396.00 527.40,396.00 535.40,396.40 C543.40,396.80 562.57,397.43 580.00,397.90 C597.43,398.37 621.72,398.77 640.00,399.20 C658.28,399.63 681.42,400.28 689.70,400.50" fill="none" stroke="#111" stroke-width="3.3" stroke-linejoin="round" stroke-linecap="round" />
<path d="M689.5,400.5 L689.7,398.6 L693,398.6" fill="none" stroke="#111" stroke-width="2.6"/>
<path d="M530.30,400.30 C530.92,400.48 532.72,401.08 534.00,401.40 C535.28,401.72 534.62,401.67 538.00,402.20 C541.38,402.73 547.30,403.73 554.30,404.60 C561.30,405.47 567.15,406.40 580.00,407.40 C592.85,408.40 617.12,409.68 631.40,410.60 C645.68,411.52 656.55,412.15 665.70,412.90 C674.85,413.65 681.75,414.68 686.30,415.10 C690.85,415.52 691.88,415.35 693.00,415.40" fill="none" stroke="#111" stroke-width="3.0" stroke-linejoin="round" stroke-linecap="round" />
<text x="549.1" y="383.1" text-anchor="start" font-size="11.7" fill="#1e1e1e" stroke="#1e1e1e" stroke-width="0.25" >0.1 C</text>
<text x="602.8" y="383.9" text-anchor="start" font-size="11.7" fill="#1e1e1e" stroke="#1e1e1e" stroke-width="0.25" >0.2 C</text>
<text x="650.0" y="387.3" text-anchor="start" font-size="11.7" fill="#1e1e1e" stroke="#1e1e1e" stroke-width="0.25" >0.1 C</text>
<line x1="546.6" y1="384" x2="536" y2="389.6" stroke="#111" stroke-width="1.4"/>
<path d="M533.5,391 L538.5,385.6 L540,391.2 Z" fill="#111"/>
<line x1="616.3" y1="388" x2="616.3" y2="393" stroke="#111" stroke-width="1.4"/>
<path d="M613.3,392 L616.3,396.5 L619.3,392 Z" fill="#111"/>
<line x1="678.6" y1="389.1" x2="685.5" y2="393.8" stroke="#111" stroke-width="1.4"/>
<path d="M688.5,395.8 L682.5,395.5 L686.2,390.5 Z" fill="#111"/>
<circle cx="585.1" cy="436.5" r="1.6" fill="#111"/>
<text x="591.1" y="440.7" text-anchor="start" font-size="11.7" fill="#1e1e1e" stroke="#1e1e1e" stroke-width="0.25" >With 4.8% additive</text>
<circle cx="585.1" cy="450.9" r="1.6" fill="#111"/>
<text x="591.1" y="455.1" text-anchor="start" font-size="11.7" fill="#1e1e1e" stroke="#1e1e1e" stroke-width="0.25" >Without additive</text>
</svg>
</body></html>
